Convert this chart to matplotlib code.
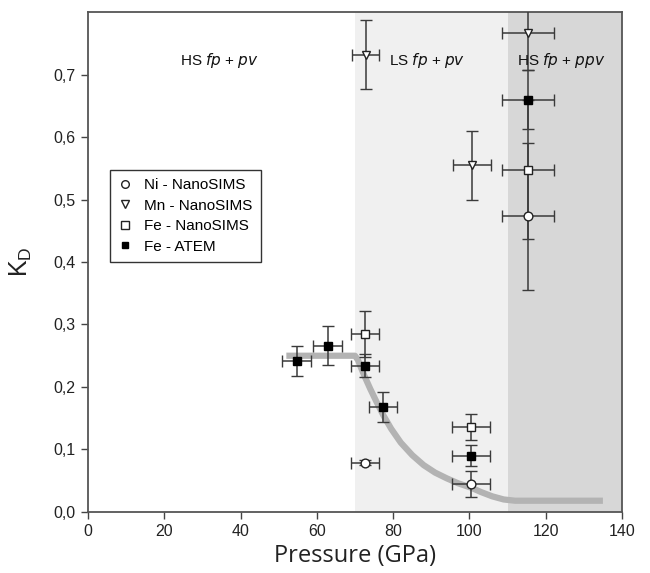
import matplotlib
matplotlib.use("Agg")
import matplotlib.pyplot as plt
from matplotlib.ticker import FuncFormatter

plt.rcParams['font.family'] = ['Liberation Sans', 'DejaVu Sans']

# ---- data ----
ni_p = [72.6, 100.4, 115.4]
ni_k = [0.079, 0.045, 0.473]
ni_px = [3.6, 5.0, 6.9]
ni_ky = [0.004, 0.021, 0.118]

mn_p = [72.8, 100.6, 115.4]
mn_k = [0.732, 0.555, 0.767]
mn_px = [3.6, 5.0, 6.9]
mn_ky = [0.055, 0.055, 0.060]

fen_p = [72.6, 100.4, 115.4]
fen_k = [0.285, 0.136, 0.548]
fen_px = [3.6, 5.0, 6.9]
fen_ky = [0.037, 0.021, 0.111]

fea_p = [54.7, 62.8, 72.6, 77.3, 100.4, 115.4]
fea_k = [0.242, 0.266, 0.234, 0.168, 0.090, 0.660]
fea_px = [3.8, 3.7, 3.6, 3.7, 5.0, 6.9]
fea_ky = [0.024, 0.031, 0.018, 0.024, 0.017, 0.047]

# model curve
curve_p = [52.0, 70.0, 70.8, 71.5, 72.6, 74.0, 75.5, 77.4, 79.5, 82.0, 85.0, 88.0, 91.0, 94.0,
           97.0, 100.4, 103.0, 106.0, 109.0, 112.0, 120.0, 135.0]
curve_k = [0.250, 0.250, 0.243, 0.232, 0.216, 0.197, 0.178, 0.155, 0.133, 0.111, 0.091, 0.075,
           0.063, 0.054, 0.046, 0.039, 0.032, 0.025, 0.020, 0.018, 0.018, 0.018]

regions = [(70, 110, '#f0f0f0'), (110, 140, '#d7d7d7')]
region_labels = [(24.0, 0.722, 'HS ', 'fp', ' + ', 'pv'),
                 (79.0, 0.722, 'LS ', 'fp', ' + ', 'pv'),
                 (112.5, 0.722, 'HS ', 'fp', ' + ', 'ppv')]

legend_labels = ['Ni - NanoSIMS', 'Mn - NanoSIMS', 'Fe - NanoSIMS', 'Fe - ATEM']
x_ticks = [0, 20, 40, 60, 80, 100, 120, 140]
y_ticks = [0.0, 0.1, 0.2, 0.3, 0.4, 0.5, 0.6, 0.7]

fig = plt.figure(figsize=(6.5, 5.73), dpi=100)
ax = fig.add_axes([0.1354, 0.1065, 0.8215, 0.8725])

for x0, x1, c in regions:
    ax.axvspan(x0, x1, color=c, lw=0, zorder=0)

ax.plot(curve_p, curve_k, color='#b3b3b3', lw=4.5, solid_capstyle='butt',
        solid_joinstyle='round', zorder=1)

ekw = dict(ecolor='#3a3a3a', elinewidth=1.1, capsize=4, capthick=1.1, ls='none', zorder=3)
ms = 6.3
ax.errorbar(ni_p, ni_k, xerr=ni_px, yerr=ni_ky, marker='o', ms=ms, mfc='white', mec='#222222', mew=1.0, **ekw)
ax.errorbar(mn_p, mn_k, xerr=mn_px, yerr=mn_ky, marker='v', ms=ms, mfc='white', mec='#222222', mew=1.0, **ekw)
ax.errorbar(fen_p, fen_k, xerr=fen_px, yerr=fen_ky, marker='s', ms=ms, mfc='white', mec='#222222', mew=1.0, **ekw)
ax.errorbar(fea_p, fea_k, xerr=fea_px, yerr=fea_ky, marker='s', ms=ms, mfc='black', mec='black', mew=1.0, **ekw)

# legend (markers only)
h1, = ax.plot([], [], 'o', ms=5.5, mfc='white', mec='#222222', mew=1.0)
h2, = ax.plot([], [], 'v', ms=5.5, mfc='white', mec='#222222', mew=1.0)
h3, = ax.plot([], [], 's', ms=5.5, mfc='white', mec='#222222', mew=1.0)
h4, = ax.plot([], [], 's', ms=4.5, mfc='black', mec='black')
leg = ax.legend([h1, h2, h3, h4], legend_labels,
                loc='upper left', bbox_to_anchor=(0.041, 0.684), borderaxespad=0,
                fontsize=11, frameon=True, fancybox=False, edgecolor='#333333', framealpha=1,
                handlelength=0.9, handletextpad=0.8, borderpad=0.55, labelspacing=0.42)
leg.get_frame().set_linewidth(1.0)

for x, y, a, b, c, d in region_labels:
    ax.text(x, y, a + '$\\it{' + b + '}$' + c + '$\\it{' + d + '}$', fontsize=11,
            va='center', ha='left', zorder=4, color='#111111')

ax.set_xlim(0, 140)
ax.set_ylim(0, 0.8)
ax.set_xticks(x_ticks)
ax.set_yticks(y_ticks)
ax.yaxis.set_major_formatter(FuncFormatter(lambda v, p: f'{v:.1f}'.replace('.', ',')))
ax.tick_params(axis='both', direction='out', length=5, width=1.0, color='#444444',
               labelsize=11.5, labelcolor='#222222', pad=4)
ax.tick_params(top=False, right=False)
for s in ax.spines.values():
    s.set_color('#555555')
    s.set_linewidth(1.3)

ax.set_xlabel('Pressure (GPa)', fontsize=17, family=['Open Sans', 'DejaVu Sans'], color='#222222', labelpad=3)
ax.set_ylabel('K$_{\\mathregular{D}}$', fontsize=18, color='#222222', labelpad=14)

fig.savefig('out.png', dpi=100)
